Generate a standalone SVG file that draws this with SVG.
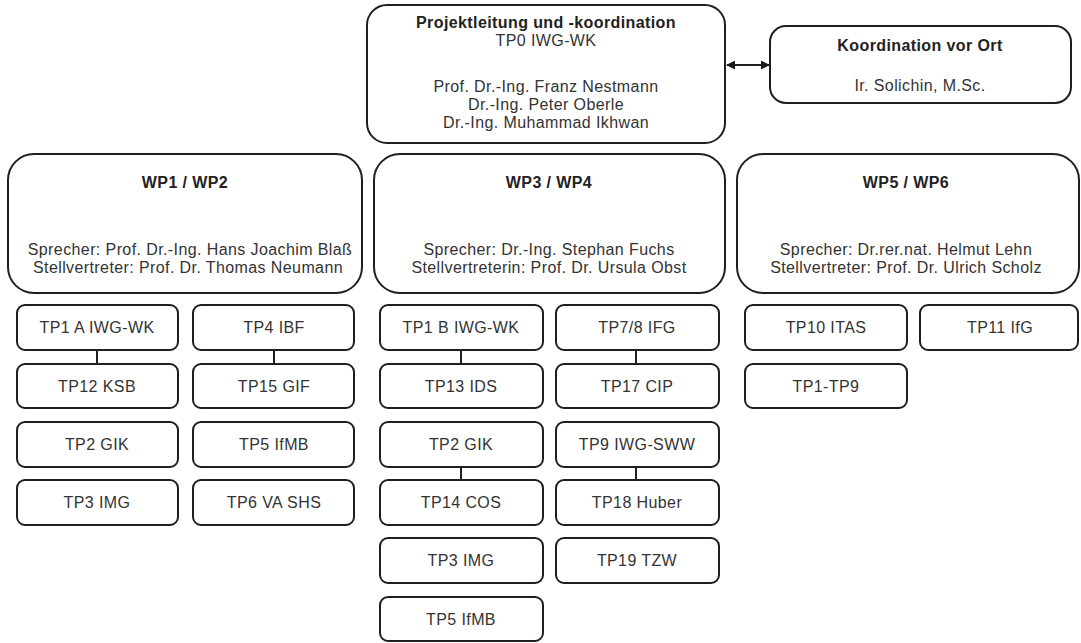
<svg xmlns="http://www.w3.org/2000/svg" width="1081" height="643" viewBox="0 0 1081 643">
<defs>
<marker id="ah" viewBox="0 0 10 10" refX="9" refY="5" markerWidth="9" markerHeight="9" markerUnits="userSpaceOnUse" orient="auto-start-reverse">
<path d="M0,0 L10,5 L0,10 Z" fill="#1a1a1a"/>
</marker>
</defs>
<style>
.box{fill:#fff;stroke:#1f1f1f;stroke-width:2}
.t{font-family:"Liberation Sans",Arial,sans-serif;font-size:16px;fill:#333;text-anchor:middle;letter-spacing:0.4px}
.b{font-weight:bold;fill:#222}
.c{stroke:#1f1f1f;stroke-width:2;fill:none}
</style>
<rect width="1081" height="643" fill="#fff"/>
<g id="connectors">
<line class="c" x1="727" y1="65" x2="769" y2="65" marker-start="url(#ah)" marker-end="url(#ah)"/>
<line class="c" x1="97" y1="350" x2="97" y2="364"/>
<line class="c" x1="274" y1="350" x2="274" y2="364"/>
<line class="c" x1="461" y1="350" x2="461" y2="364"/>
<line class="c" x1="461" y1="467" x2="461" y2="480"/>
<line class="c" x1="636" y1="350" x2="636" y2="364"/>
<line class="c" x1="636" y1="467" x2="636" y2="480"/>
</g>
<g id="tp0">
<rect class="box" x="367" y="5" width="358" height="138" rx="20"/>
<text class="t b" x="546" y="28">Projektleitung und -koordination</text>
<text class="t" x="546" y="46">TP0 IWG-WK</text>
<text class="t" x="546" y="92">Prof. Dr.-Ing. Franz Nestmann</text>
<text class="t" x="546" y="110">Dr.-Ing. Peter Oberle</text>
<text class="t" x="546" y="128">Dr.-Ing. Muhammad Ikhwan</text>
</g>
<g id="koordination">
<rect class="box" x="770" y="26" width="301" height="77" rx="16"/>
<text class="t b" x="920" y="51">Koordination vor Ort</text>
<text class="t" x="920" y="91">Ir. Solichin, M.Sc.</text>
</g>
<g id="wp12">
<rect class="box" x="8" y="154" width="354" height="139" rx="26"/>
<text class="t b" x="185" y="188">WP1 / WP2</text>
<text class="t" x="190" y="255">Sprecher: Prof. Dr.-Ing. Hans Joachim Blaß</text>
<text class="t" x="188" y="273">Stellvertreter: Prof. Dr. Thomas Neumann</text>
</g>
<g id="wp34">
<rect class="box" x="374" y="154" width="351" height="139" rx="26"/>
<text class="t b" x="549" y="188">WP3 / WP4</text>
<text class="t" x="549" y="255">Sprecher: Dr.-Ing. Stephan Fuchs</text>
<text class="t" x="549" y="273">Stellvertreterin: Prof. Dr. Ursula Obst</text>
</g>
<g id="wp56">
<rect class="box" x="737" y="154" width="342" height="139" rx="26"/>
<text class="t b" x="906" y="188">WP5 / WP6</text>
<text class="t" x="906" y="255">Sprecher: Dr.rer.nat. Helmut Lehn</text>
<text class="t" x="906" y="273">Stellvertreter: Prof. Dr. Ulrich Scholz</text>
</g>
<g id="tp1a"><rect class="box" x="17" y="305" width="161" height="45" rx="8"/><text class="t" x="97" y="333">TP1 A IWG-WK</text></g>
<g id="tp12"><rect class="box" x="17" y="364" width="161" height="44" rx="8"/><text class="t" x="97" y="392">TP12 KSB</text></g>
<g id="tp2a"><rect class="box" x="17" y="422" width="161" height="45" rx="8"/><text class="t" x="97" y="450">TP2 GIK</text></g>
<g id="tp3a"><rect class="box" x="17" y="480" width="161" height="45" rx="8"/><text class="t" x="97" y="508">TP3 IMG</text></g>
<g id="tp4"><rect class="box" x="193" y="305" width="161" height="45" rx="8"/><text class="t" x="274" y="333">TP4 IBF</text></g>
<g id="tp15"><rect class="box" x="193" y="364" width="161" height="44" rx="8"/><text class="t" x="274" y="392">TP15 GIF</text></g>
<g id="tp5a"><rect class="box" x="193" y="422" width="161" height="45" rx="8"/><text class="t" x="274" y="450">TP5 IfMB</text></g>
<g id="tp6"><rect class="box" x="193" y="480" width="161" height="45" rx="8"/><text class="t" x="274" y="508">TP6 VA SHS</text></g>
<g id="tp1b"><rect class="box" x="380" y="305" width="163" height="45" rx="8"/><text class="t" x="461" y="333">TP1 B IWG-WK</text></g>
<g id="tp13"><rect class="box" x="380" y="364" width="163" height="44" rx="8"/><text class="t" x="461" y="392">TP13 IDS</text></g>
<g id="tp2b"><rect class="box" x="380" y="422" width="163" height="45" rx="8"/><text class="t" x="461" y="450">TP2 GIK</text></g>
<g id="tp14"><rect class="box" x="380" y="480" width="163" height="45" rx="8"/><text class="t" x="461" y="508">TP14 COS</text></g>
<g id="tp3b"><rect class="box" x="380" y="538" width="163" height="45" rx="8"/><text class="t" x="461" y="566">TP3 IMG</text></g>
<g id="tp5b"><rect class="box" x="380" y="597" width="163" height="44" rx="8"/><text class="t" x="461" y="625">TP5 IfMB</text></g>
<g id="tp78"><rect class="box" x="556" y="305" width="163" height="45" rx="8"/><text class="t" x="637" y="333">TP7/8 IFG</text></g>
<g id="tp17"><rect class="box" x="556" y="364" width="163" height="44" rx="8"/><text class="t" x="637" y="392">TP17 CIP</text></g>
<g id="tp9"><rect class="box" x="556" y="422" width="163" height="45" rx="8"/><text class="t" x="637" y="450">TP9 IWG-SWW</text></g>
<g id="tp18"><rect class="box" x="556" y="480" width="163" height="45" rx="8"/><text class="t" x="637" y="508">TP18 Huber</text></g>
<g id="tp19"><rect class="box" x="556" y="538" width="163" height="45" rx="8"/><text class="t" x="637" y="566">TP19 TZW</text></g>
<g id="tp10"><rect class="box" x="745" y="305" width="162" height="45" rx="8"/><text class="t" x="826" y="333">TP10 ITAS</text></g>
<g id="tp11"><rect class="box" x="920" y="305" width="158" height="45" rx="8"/><text class="t" x="1000" y="333">TP11 IfG</text></g>
<g id="tp1-9"><rect class="box" x="745" y="364" width="162" height="44" rx="8"/><text class="t" x="826" y="392">TP1-TP9</text></g>
</svg>
